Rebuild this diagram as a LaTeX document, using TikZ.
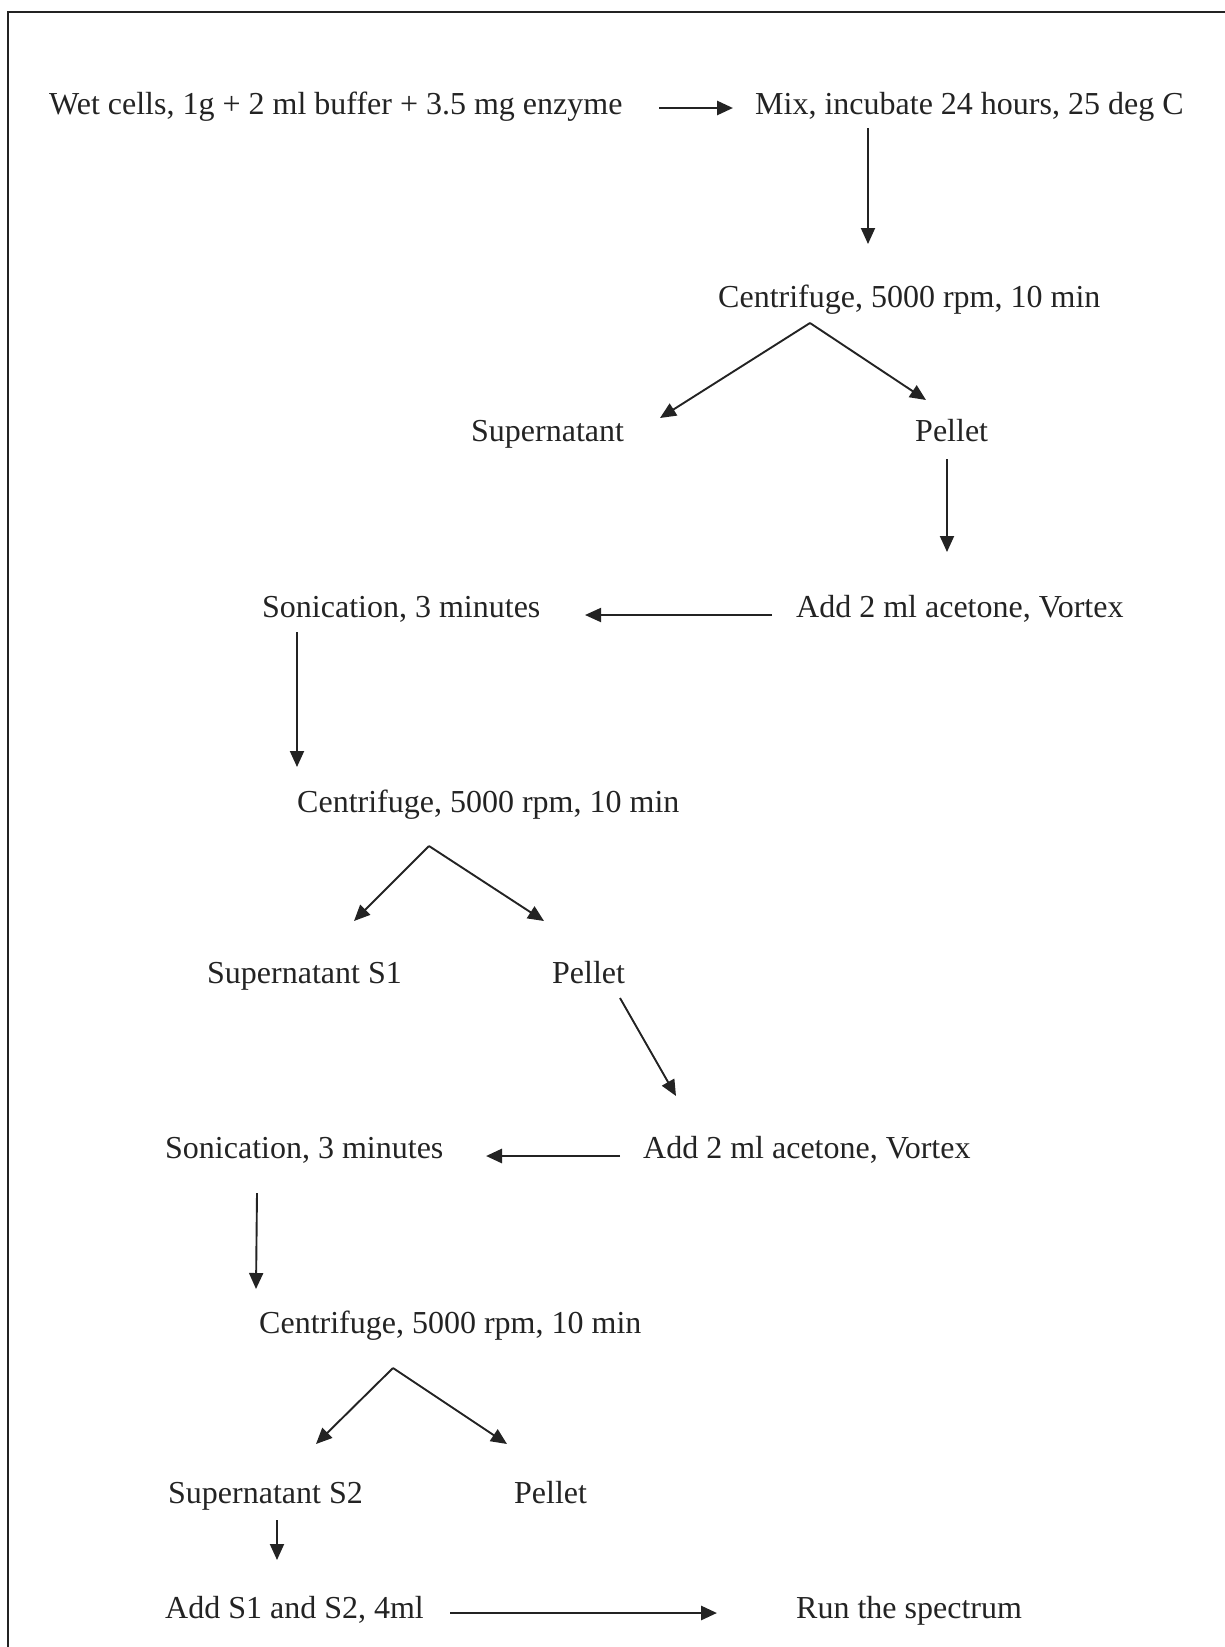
\documentclass[tikz,border=0pt]{standalone}
\usepackage{fontspec}
\setmainfont{Liberation Serif}
\usetikzlibrary{arrows.meta,calc}
\definecolor{ink}{RGB}{35,35,35}
\tikzset{
  txt/.style={anchor=west, inner sep=0pt, text height=22pt, text depth=0pt,
              font=\fontsize{32}{38}\selectfont, text=ink},
  arr/.style={draw=ink, line width=1.9pt, -{Triangle[length=16pt,width=14pt]}},
  harr/.style={arr, line width=2.8pt},
  frameline/.style={draw=ink, line width=2.6pt}
}
\begin{document}
\begin{tikzpicture}[x=1pt, y=-1pt]
\useasboundingbox (0,0) rectangle (1225,1647);
% open frame: top and left edges
\draw[frameline] (8,1647) -- (8,12) -- (1225,12);

% steps
\node[txt] (wet)  at (49,103)   {Wet cells, 1g + 2 ml buffer + 3.5 mg enzyme};
\node[txt] (mix)  at (755,103)  {Mix, incubate 24 hours, 25 deg C};
\node[txt] (cenA) at (718,296)  {Centrifuge, 5000 rpm, 10 min};
\node[txt] (supA) at (471,430)  {Supernatant};
\node[txt] (pelA) at (915,430)  {Pellet};
\node[txt] (acA)  at (796,606)  {Add 2 ml acetone, Vortex};
\node[txt] (sonA) at (262,606)  {Sonication, 3 minutes};
\node[txt] (cenB) at (297,801)  {Centrifuge, 5000 rpm, 10 min};
\node[txt] (supB) at (207,972)  {Supernatant S1};
\node[txt] (pelB) at (552,972)  {Pellet};
\node[txt] (acB)  at (643,1147) {Add 2 ml acetone, Vortex};
\node[txt] (sonB) at (165,1147) {Sonication, 3 minutes};
\node[txt] (cenC) at (259,1322) {Centrifuge, 5000 rpm, 10 min};
\node[txt] (supC) at (168,1492) {Supernatant S2};
\node[txt] (pelC) at (514,1492) {Pellet};
\node[txt] (addS) at (165,1607) {Add S1 and S2, 4ml};
\node[txt] (run)  at (796,1607) {Run the spectrum};

% connectors
\draw[harr] ($(wet.west)+(610,5)$) -- ($(mix.west)+(-22,5)$);
\draw[arr] ($(mix.west)+(113,25)$) -- ($(cenA.west)+(150,-52)$);
\draw[arr] ($(cenA.west)+(92,27)$) -- ($(supA.west)+(189,-12)$);
\draw[arr] ($(cenA.west)+(92,27)$) -- ($(pelA.west)+(11,-30)$);
\draw[arr] ($(pelA.west)+(32,29)$) -- ($(acA.west)+(151,-54)$);
\draw[arr] ($(acA.west)+(-24,9)$) -- ($(sonA.west)+(323,9)$);
\draw[arr] ($(sonA.west)+(35,26)$) -- ($(cenB.west)+(0,-34)$);
\draw[arr] ($(cenB.west)+(132,45)$) -- ($(supB.west)+(147,-51)$);
\draw[arr] ($(cenB.west)+(132,45)$) -- ($(pelB.west)+(-8,-51)$);
\draw[arr] ($(pelB.west)+(68,26)$) -- ($(acB.west)+(33,-51)$);
\draw[harr] ($(acB.west)+(-23,9)$) -- ($(sonB.west)+(321,9)$);
\draw[arr] ($(sonB.west)+(92,46)$) -- ($(cenC.west)+(-3,-33)$);
\draw[arr] ($(cenC.west)+(134,46)$) -- ($(supC.west)+(148,-48)$);
\draw[arr] ($(cenC.west)+(134,46)$) -- ($(pelC.west)+(-7,-48)$);
\draw[arr] ($(supC.west)+(109,28)$) -- ($(addS.west)+(112,-47)$);
\draw[harr] ($(addS.west)+(285,6)$) -- ($(run.west)+(-79,6)$);
\end{tikzpicture}
\end{document}
